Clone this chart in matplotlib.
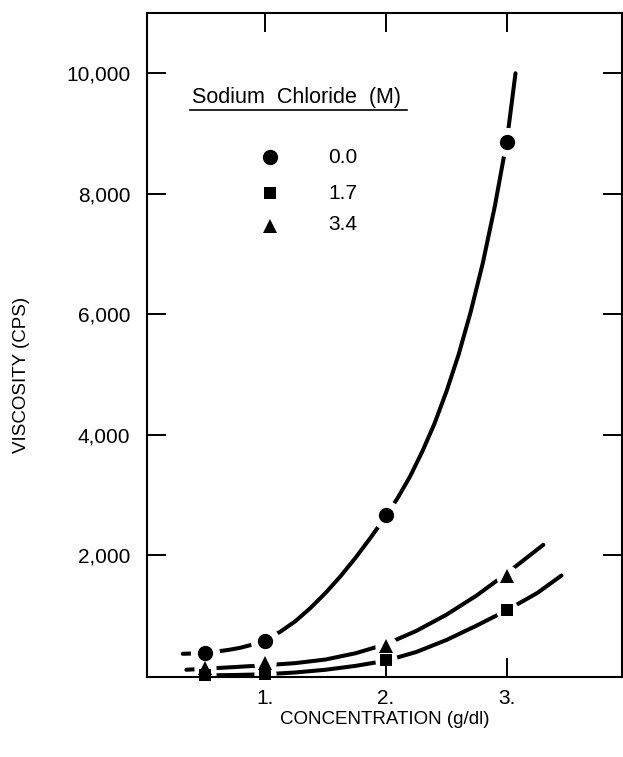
import matplotlib
matplotlib.use("Agg")
import matplotlib.pyplot as plt
from matplotlib.ticker import FuncFormatter

plt.rcParams['font.family'] = ['Liberation Sans', 'DejaVu Sans']

# Measured viscosity at each polymer concentration
conc = [0.5, 1.0, 2.0, 3.0]
visc_nacl_00 = [380, 580, 2660, 8860]
visc_nacl_17 = [5, 20, 260, 1090]
visc_nacl_34 = [125, 200, 490, 1660]

# Hand-drawn trend curves through each series
curve_x_00 = [0.32, 0.4, 0.5, 0.6, 0.7, 0.8, 0.9, 1.0, 1.125, 1.25, 1.375, 1.5, 1.625,
              1.75, 1.875, 2.0, 2.1, 2.2, 2.3, 2.4, 2.5, 2.6, 2.7, 2.8, 2.9, 3.0, 3.07]
curve_y_00 = [360, 365, 378, 398, 425, 462, 515, 590, 725, 900, 1120, 1370, 1650,
              1960, 2295, 2650, 2960, 3310, 3720, 4180, 4720, 5330, 6040, 6850, 7800, 8900, 10000]
curve_x_34 = [0.35, 0.5, 0.75, 1.0, 1.25, 1.5, 1.75, 2.0, 2.25, 2.5, 2.75, 3.0, 3.3]
curve_y_34 = [95, 112, 140, 170, 205, 265, 370, 520, 740, 1010, 1330, 1700, 2170]
curve_x_17 = [0.45, 0.75, 1.0, 1.25, 1.5, 1.75, 2.0, 2.25, 2.5, 2.75, 3.0, 3.25, 3.45]
curve_y_17 = [0, 8, 20, 50, 95, 160, 245, 390, 590, 830, 1085, 1370, 1660]

legend_labels = ['0.0', '1.7', '3.4']
x_ticks = [1, 2, 3]
x_tick_labels = ['1.', '2.', '3.']
y_ticks = [2000, 4000, 6000, 8000, 10000]

fig = plt.figure(figsize=(6.23, 7.57), dpi=100)
ax = fig.add_axes([0.236, 0.1057, 0.7624, 0.8771])

ink = 'black'
lw = 2.9

for cx, cy in [(curve_x_00, curve_y_00), (curve_x_34, curve_y_34), (curve_x_17, curve_y_17)]:
    ax.plot(cx, cy, color=ink, lw=lw, solid_capstyle='round', solid_joinstyle='round',
            zorder=2, clip_on=False)

# white halos break the curves around each data point
ax.plot(conc, visc_nacl_00, 'o', ms=20, color='white', mec='white', zorder=2.2)
ax.plot(conc, visc_nacl_34, 'o', ms=15, color='white', mec='white', zorder=2.2)
ax.plot(conc, visc_nacl_17, 'o', ms=15, color='white', mec='white', zorder=2.2)

ax.plot(conc, visc_nacl_00, 'o', ms=11, color=ink, mec=ink, mew=0, zorder=3, clip_on=False)
ax.plot(conc, visc_nacl_17, 's', ms=9.3, color=ink, mec=ink, mew=0, zorder=3.1, clip_on=False)
ax.plot(conc, visc_nacl_34, '^', ms=9.8, color=ink, mec=ink, mew=0, zorder=3.2, clip_on=False)

ax.set_xlim(0.025, 3.95)
ax.set_ylim(-25, 11000)
ax.set_xticks(x_ticks)
ax.set_xticklabels(x_tick_labels)
ax.set_yticks(y_ticks)
ax.yaxis.set_major_formatter(FuncFormatter(lambda v, p: f"{int(v):,}"))
ax.set_axisbelow(False)

ax.tick_params(axis='both', direction='in', length=14, width=1.4,
               top=True, right=True, labelsize=15, color=ink)
ax.tick_params(axis='x', pad=9)
ax.tick_params(axis='y', pad=12)
for s in ax.spines.values():
    s.set_linewidth(1.5)
    s.set_color(ink)

# legend block
ax.text(0.3147, 0.8735, 'Sodium  Chloride  (M)', transform=ax.transAxes,
        ha='center', va='center', fontsize=15.5)
ax.plot([0.0905, 0.547], [0.8539, 0.8539], transform=ax.transAxes,
        color=ink, lw=1.2, clip_on=False)
leg_y_mark = [0.7831, 0.7289, 0.6792]
leg_y_text = [0.7831, 0.7289, 0.6822]
leg_markers = [('o', 11), ('s', 9.3), ('^', 9.8)]
for (m, ms), ym, yt, lab in zip(leg_markers, leg_y_mark, leg_y_text, legend_labels):
    ax.plot([0.259], [ym], m, ms=ms, color=ink, mew=0, transform=ax.transAxes, clip_on=False)
    ax.text(0.381, yt, lab, transform=ax.transAxes, ha='left', va='center', fontsize=15)

fig.text(0.0353, 0.5046, 'VISCOSITY (CPS)', rotation=90, ha='center', va='center', fontsize=13.5)
fig.text(0.618, 0.0489, 'CONCENTRATION (g/dl)', ha='center', va='center', fontsize=13.5)

fig.savefig('out.png', dpi=100, facecolor='white')
